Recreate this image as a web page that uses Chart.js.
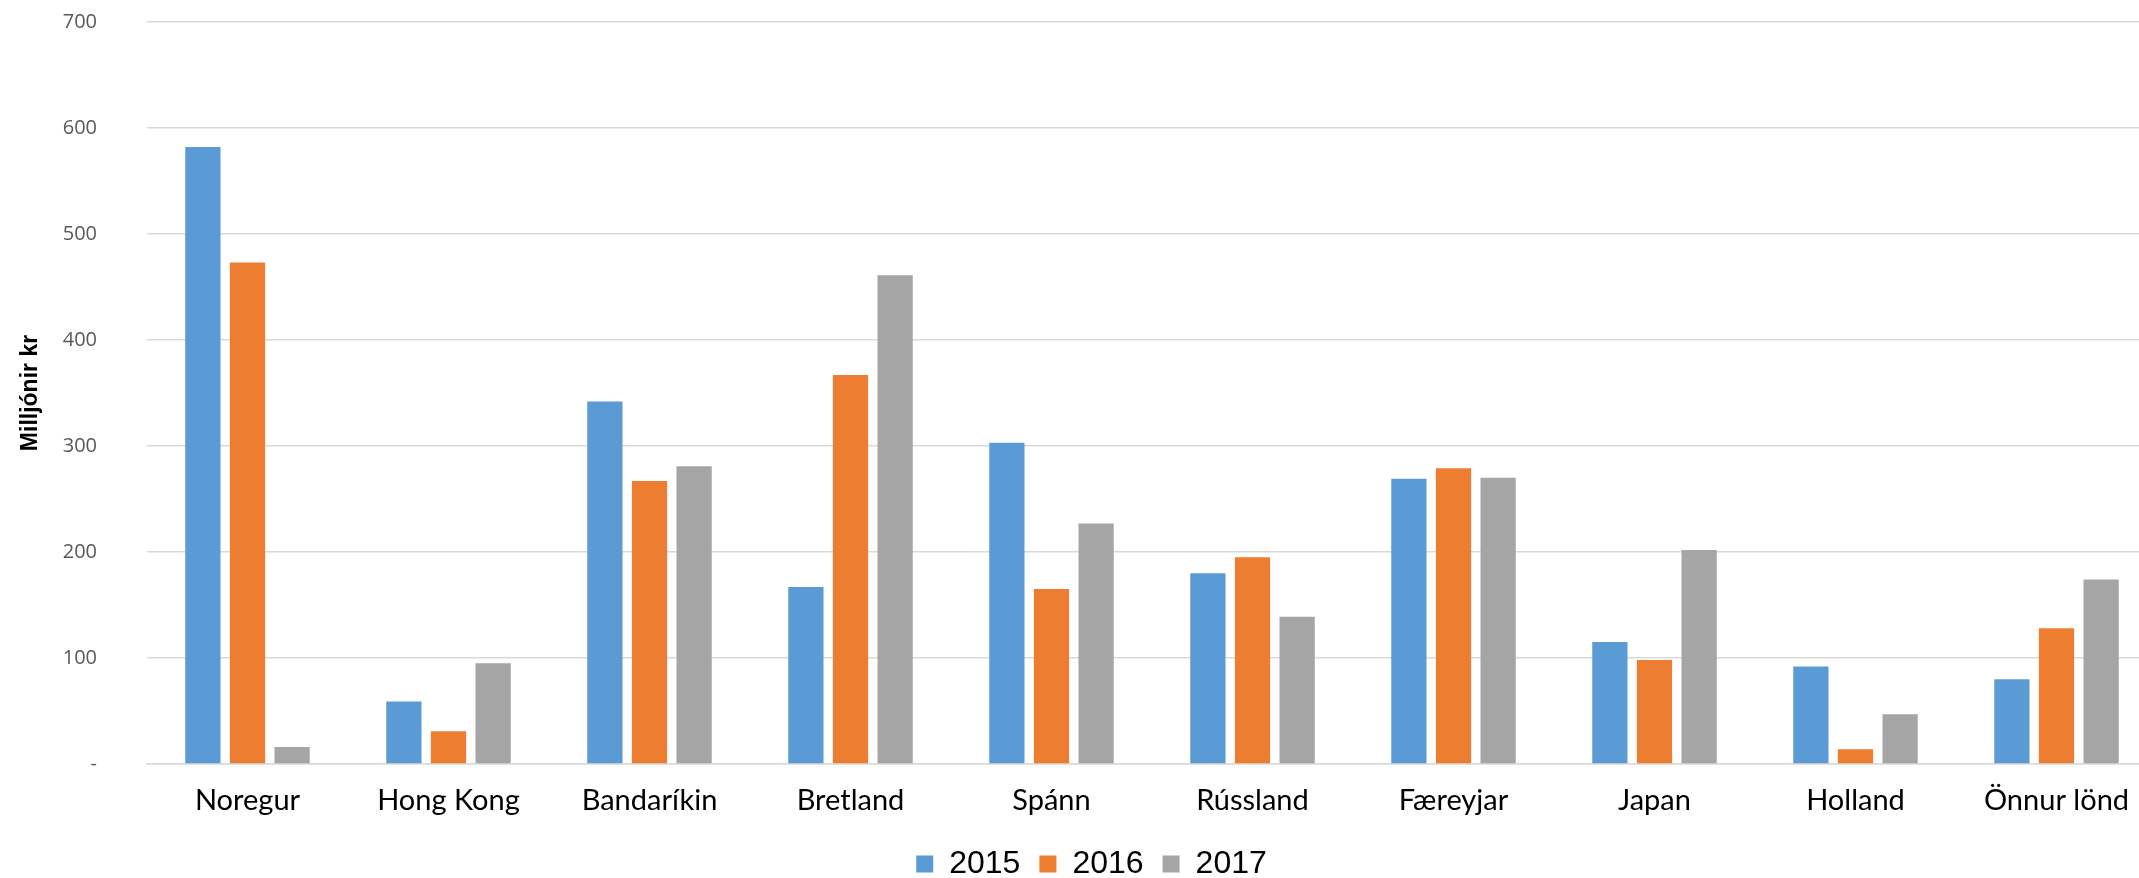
<!DOCTYPE html>
<html>
<head>
<meta charset="utf-8">
<script src="https://cdn.jsdelivr.net/npm/chart.js@4.4.1/dist/chart.umd.min.js"></script>
<style>
  html, body { margin: 0; padding: 0; background: #fff; overflow: hidden; }
  #wrap { position: relative; width: 2160px; height: 878px; }
</style>
</head>
<body>
<div id="wrap"><canvas id="c" width="2160" height="878"></canvas></div>
<script>
const categories = ['Noregur', 'Hong Kong', 'Bandaríkin', 'Bretland', 'Spánn', 'Rússland', 'Færeyjar', 'Japan', 'Holland', 'Önnur lönd'];
const seriesNames = ['2015', '2016', '2017'];
const values2015 = [582, 59, 342, 167, 303, 180, 269, 115, 92, 80];
const values2016 = [473, 31, 267, 367, 165, 195, 279, 98, 14, 128];
const values2017 = [16, 95, 281, 461, 227, 139, 270, 202, 47, 174];
const yTickLabels = ['-', '100', '200', '300', '400', '500', '600', '700'];
const yAxisTitle = 'Milljónir kr';
const colors = ['#5B9BD5', '#ED7D31', '#A5A5A5'];

const allValues = [values2015, values2016, values2017];

new Chart(document.getElementById('c'), {
  type: 'bar',
  data: {
    labels: categories,
    datasets: allValues.map((v, i) => ({
      label: seriesNames[i],
      data: v,
      backgroundColor: colors[i],
      borderWidth: 0,
      categoryPercentage: 0.666,
      barPercentage: 0.79
    }))
  },
  options: {
    responsive: false,
    animation: false,
    layout: { padding: { top: 22, right: 3, left: 26, bottom: -12 } },
    plugins: {
      tooltip: { enabled: false },
      legend: {
        position: 'bottom',
        labels: {
          boxWidth: 17,
          boxHeight: 17,
          padding: 19,
          color: '#000',
          font: { family: 'Liberation Sans, Arial, sans-serif', size: 32 }
        }
      }
    },
    scales: {
      x: {
        afterFit: function (scale) { scale.height = 65; },
        grid: { display: false, drawTicks: false },
        border: { display: true, color: '#d9d9d9', width: 1.5 },
        ticks: {
          color: '#000',
          padding: 19,
          maxRotation: 0,
          autoSkip: false,
          font: { family: 'Lato, sans-serif', size: 29 }
        }
      },
      y: {
        min: 0,
        max: 700,
        afterFit: function (scale) { scale.width = 121; },
        grid: { color: '#d9d9d9', lineWidth: 1.5, drawTicks: true, tickLength: 46, tickColor: 'rgba(0,0,0,0)' },
        border: { display: false },
        ticks: {
          stepSize: 100,
          padding: 4,
          color: '#595959',
          font: { family: 'Open Sans, sans-serif', size: 20 },
          callback: function (value) { return yTickLabels[Math.round(value / 100)]; }
        },
        title: {
          display: true,
          text: yAxisTitle,
          color: '#000',
          padding: { top: -9, bottom: 10 },
          font: { family: 'Liberation Sans Narrow, Liberation Sans, sans-serif', size: 23, weight: 'bold' }
        }
      }
    }
  }
});
</script>
</body>
</html>
